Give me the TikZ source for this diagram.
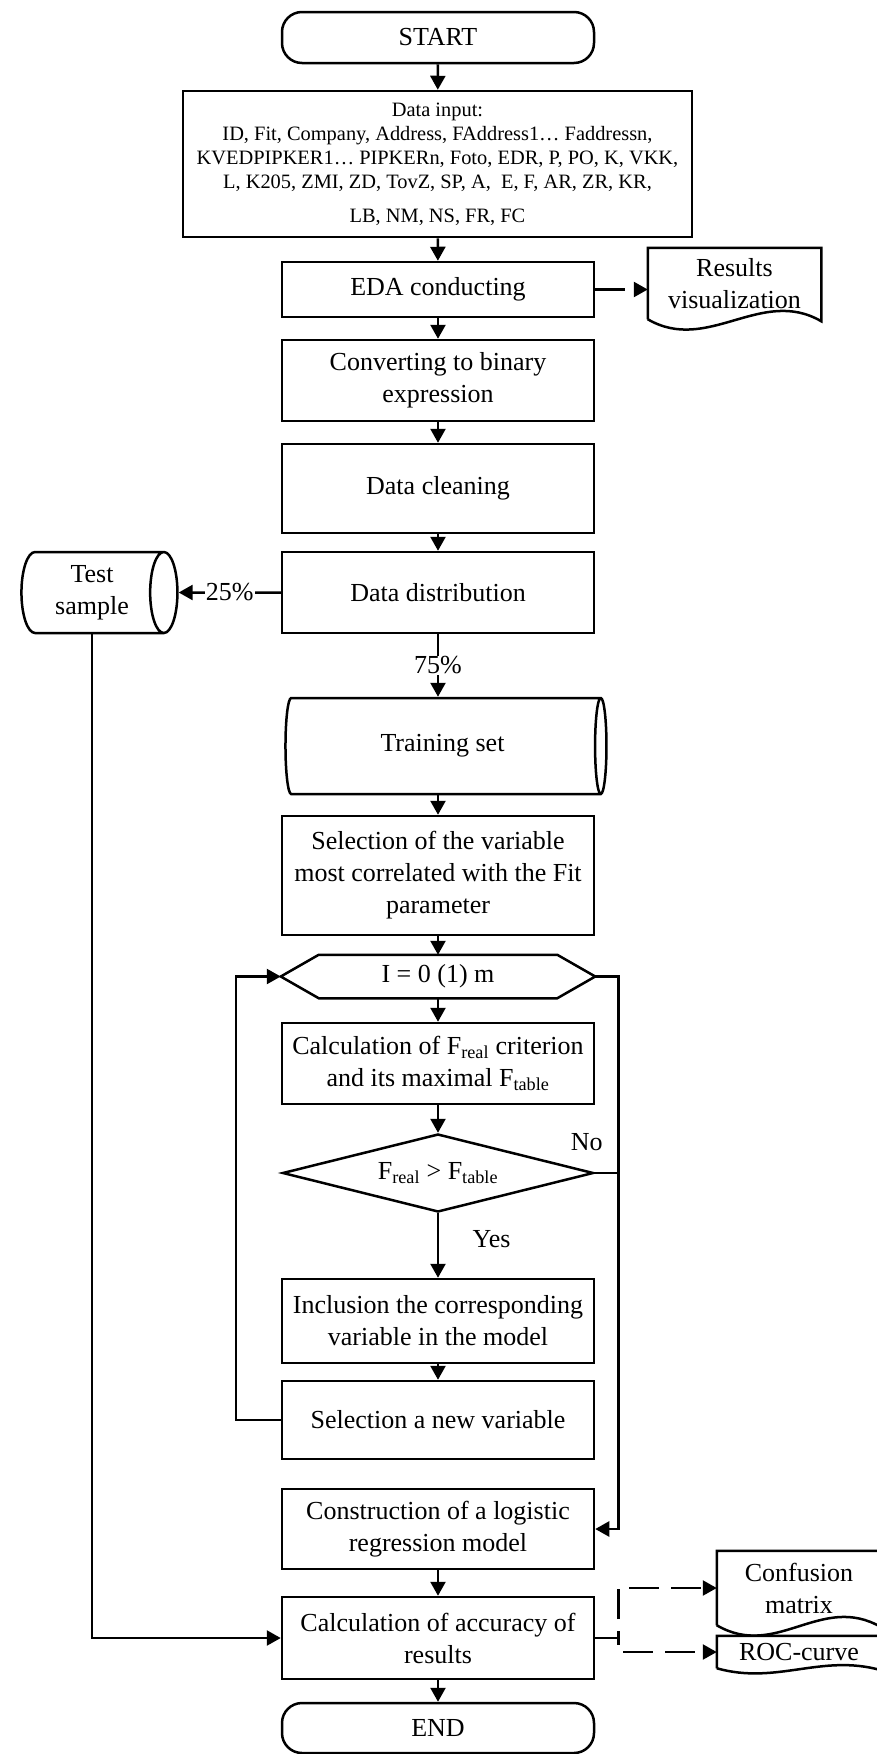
\documentclass[tikz,border=0pt]{standalone}
\usepackage{fontspec}
\setmainfont{Liberation Serif}
\usepackage{tikz}
\usetikzlibrary{arrows.meta,positioning,shapes.geometric,shapes.misc,calc}

% document symbol: node frame with a wavy lower edge
\newcommand{\docframe}[2]{\draw[line width=2.5pt] (#1.south west) -- (#1.north west) -- (#1.north east) -- ($(#1.south east)+(0,2)$)
  .. controls +(-60,-#2) and +(60,#2) .. (#1.south west);}

\begin{document}
\begin{tikzpicture}[x=1pt,y=-1pt,font=\fontsize{26}{32}\selectfont,line width=2.5pt,
  box/.style={draw,minimum width=312pt,inner sep=0pt,align=center},
  term/.style={draw,rounded corners=20pt,minimum width=312pt,minimum height=50pt},
  store/.style={draw,cylinder,shape aspect=0.5,inner sep=0pt,align=center},
  docnode/.style={inner sep=0pt,align=center,minimum width=162pt},
  arr/.style={-{Triangle[length=14pt,width=15pt]}},
  dasharr/.style={arr,dash pattern=on 30pt off 12pt}]
\useasboundingbox (0,0) rectangle (876,1754);

% main column
\node[term,minimum height=51pt] (start) at (438,37.5) {START};
\node[box,minimum width=509pt,minimum height=146pt,font=\fontsize{20.4}{24}\selectfont] (datain) at (437.5,164)
  {Data input:\\ID, Fit, Company, Address, FAddress1… Faddressn,\\KVEDPIPKER1… PIPKERn, Foto, EDR, P, PO, K, VKK,\\L, K205, ZMI, ZD, TovZ, SP, A,~ E, F, AR, ZR, KR,\\[10pt]LB, NM, NS, FR, FC};
\node[box,minimum height=55pt] (eda) at (438,289.5) {EDA conducting};
\node[box,minimum height=81pt] (conv) at (438,380.5) {Converting to binary\\expression};
\node[box,minimum height=89pt] (clean) at (438,488.5) {Data cleaning};
\node[box,minimum height=81pt] (dist) at (438,592.5) {Data distribution};
\node[store,minimum height=156pt,minimum width=81pt] (test) at (92,592.5) {Test\\sample};
\node[store,minimum height=321pt,minimum width=96pt] (train) at (442.5,746) {Training set};
\node[box,minimum height=119pt] (sel) at (438,875.5) {Selection of the variable\\most correlated with the Fit\\parameter};
\node[box,draw=none,minimum height=41pt] (loop) at (438,976.5) {I = 0 (1) m};
\node[box,minimum height=81pt] (calcf) at (438,1063.5) {Calculation of F\textsubscript{real} criterion\\and its maximal F\textsubscript{table}};
\node[draw,diamond,shape aspect=4,inner sep=0pt,minimum width=311pt,minimum height=78pt] (cmp) at (438,1173) {F\textsubscript{real} > F\textsubscript{table}};
\node[box,minimum height=84pt] (incl) at (438,1321) {Inclusion the corresponding\\variable in the model};
\node[box,minimum height=78pt] (newv) at (438,1420) {Selection a new variable};
\node[box,minimum height=80pt] (constr) at (438,1529) {Construction of a logistic\\regression model};
\node[box,minimum height=82pt] (acc) at (438,1638) {Calculation of accuracy of\\results};
\node[term] (end) at (438,1728) {END};

% hexagon of the loop
\draw (loop.west) -- ([xshift=38pt]loop.north west) -- ([xshift=-38pt]loop.north east) -- (loop.east)
  -- ([xshift=-38pt]loop.south east) -- ([xshift=38pt]loop.south west) -- cycle;

% outputs
\node[docnode,minimum width=171pt,minimum height=69pt] (res) at (734.5,283.5) {Results\\visualization};
\node[docnode,minimum height=72pt] (conf) at (799,1588) {Confusion\\matrix};
\node[docnode,minimum height=30pt] (roc) at (799,1652) {ROC-curve};
\docframe{res}{35}
\docframe{conf}{35}
\docframe{roc}{17}

% connectors
\draw[arr] (start) -- (datain);
\draw[arr] (datain) -- (eda);
\draw[dasharr] (eda.east) -- (eda.east -| res.west);
\draw[arr] (eda) -- (conv);
\draw[arr] (conv) -- (clean);
\draw[arr] (clean) -- (dist);
\draw[arr] (dist.west) -- (test.east) node[midway,fill=white,inner sep=1pt] {25\%};
\draw[arr] (dist.south) -- (dist.south |- train.north) node[midway,fill=white,inner sep=1pt] {75\%};
\draw[arr] (sel.north |- train.south) -- (sel.north);
\draw[arr] (sel) -- (loop);
\draw[arr] (loop) -- (calcf);
\draw[arr] (calcf) -- (cmp);
\draw[arr] (cmp) -- (incl) node[pos=0.4,right=30pt] {Yes};
\draw[arr] (incl) -- (newv);
\draw[arr] (newv.west) -- ++(-45,0) |- (loop.west);
\draw[arr] (loop.east) -- ++(23,0) coordinate (rx) |- (constr.east);
\draw (cmp.east) -- (cmp.east -| rx);
\node (no) at ($(cmp.east)+(-8,-31)$) {No};
\draw[arr] (constr) -- (acc);
\draw[arr] (acc) -- (end);
\draw[arr] (test.south) |- (acc.west);
\draw[dasharr] (acc.east) -- ++(23,0) |- (conf.west);
\draw[dasharr] (acc.east) -- ++(23,0) |- (roc.west);
\end{tikzpicture}
\end{document}
